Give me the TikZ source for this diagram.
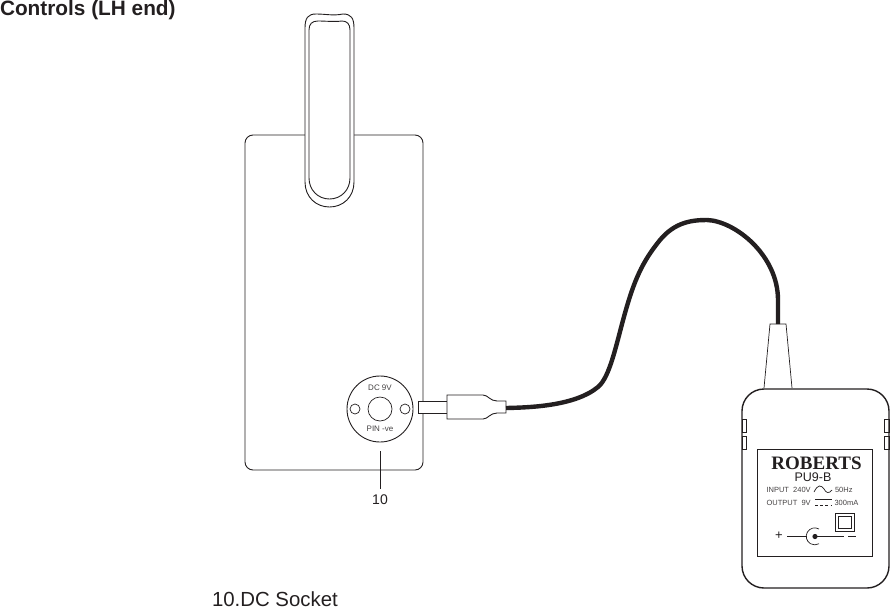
\documentclass[tikz,border=0pt]{standalone}
\usepackage{fontspec}
\setmainfont{Liberation Sans}
\newfontfamily\serifb{Liberation Serif}[Scale=1]
\definecolor{ink}{HTML}{231F20}
\tikzset{
  x=1pt,y=-1pt,
  every node/.style={inner sep=0pt,outer sep=0pt,text=ink},
  outline/.style={draw=ink,line width=0.9pt},
  thinline/.style={draw=ink,line width=0.7pt},
  small/.style={font=\fontsize{7.5}{8}\selectfont,text=ink!85},
  tiny/.style={font=\fontsize{8}{9}\selectfont,text=ink!85},
  cable/.style={draw=ink,line width=4.4pt}
}
\begin{document}
\begin{tikzpicture}
\useasboundingbox (0,0) rectangle (890,608);
% title and caption
\node[anchor=base west,font=\bfseries\fontsize{20.8}{24}\selectfont] (title) at (0,15.5) {Controls (LH end)};
\node[anchor=base west,font=\fontsize{20.4}{24}\selectfont] (caption) at (212,606) {10.DC Socket};
% radio body
\draw[outline,rounded corners=8] (245,135) rectangle (423,470);
% handle
\draw[outline,fill=white] (305,28) .. controls (305,18) and (308,14) .. (316,14)
  .. controls (326,14) and (333,16) .. (343,14) .. controls (351,14) and (354,18) .. (354,28)
  -- (354,182) .. controls (354,197) and (343,207) .. (329.5,207)
  .. controls (316,207) and (305,197) .. (305,182) -- cycle;
\draw[outline] (309,30) .. controls (309,24) and (312,21) .. (318,21)
  .. controls (326,21) and (334,22) .. (342,21) .. controls (347,21) and (350,24) .. (350,30)
  -- (350,178) .. controls (350,190) and (341,199) .. (329.5,199)
  .. controls (318,199) and (309,190) .. (309,178) -- cycle;
% socket
\node[circle,outline,minimum size=66pt] (socket) at (380,409) {};
\node[circle,thinline,minimum size=24pt] (pin) at (380,409) {};
\node[circle,thinline,minimum size=10pt] (holeL) at (355,409) {};
\node[circle,thinline,minimum size=10pt] (holeR) at (405,409) {};
\node[tiny] (dcnine) at (380,388) {DC\ 9V};
\node[tiny] (pinve) at (380,429) {PIN -ve};
\node[anchor=base,font=\fontsize{14}{16}\selectfont] (ten) at (380,504) {10};
\coordinate (tentop) at (380,451);
\draw[outline,shorten >=5pt] (tentop) -- (ten.north);
% plug
\draw[outline,fill=white] (447,401) -- (418,401) -- (418,413) -- (447,413);
\draw[outline,fill=white] (447,395) -- (483,395) .. controls (488,395) and (490,401) .. (497,401)
  -- (506,401) -- (506,413) -- (497,413) .. controls (490,413) and (488,419) .. (483,419)
  -- (447,419) -- cycle;
\coordinate (plugend) at (506,408);
\coordinate (neckin) at (778,324);
\draw[cable] (plugend) .. controls (530,407.5) and (575,406) .. (598,387)
  .. controls (610,377) and (616,345) .. (625,313)
  .. controls (634,281) and (642,262) .. (660,240)
  .. controls (675,222) and (692,220) .. (707,220)
  .. controls (735,221) and (778,255) .. (778,300)
  -- (neckin);
% adapter neck
\draw[thinline] (764,388) -- (770,324) -- (786,324) -- (792,388);
% adapter body
\draw[draw=ink,line width=1.4pt,rounded corners=22] (742,389) rectangle (889,588);
\draw[thinline] (742,419) rectangle (746,432) (742,436) rectangle (746,449);
\draw[thinline] (884,419) rectangle (889,432) (884,436) rectangle (889,449);
% label
\draw[outline] (757,449) rectangle (872,556);
\node[anchor=base,font=\serifb\bfseries\fontsize{19}{21}\selectfont] (brand) at (816.5,469) {ROBERTS};
\node[anchor=base,font=\fontsize{12.5}{14}\selectfont] (model) at (813,481) {PU9-B};
\node[small,anchor=base west] (inp) at (766.5,492.5) {INPUT\ \ 240V};
\node[small,anchor=base west] (hz) at (835,492.5) {50Hz};
\node[small,anchor=base west] (outp) at (766.5,505) {OUTPUT\ \ 9V};
\node[small,anchor=base west] (ma) at (834.5,505) {300mA};
\draw[thinline] (814,492) .. controls (818,484) and (821,485) .. (824,489) .. controls (826,493) and (829,494) .. (832,490);
\draw[thinline] (815,499) -- (832,499);
\draw[thinline,dash pattern=on 3pt off 2.2pt] (815,505) -- (832,505);
\draw[thinline] (835,513) rectangle (854,531);
\draw[thinline] (838,516) rectangle (851,528);
% polarity
\node[font=\fontsize{13}{14}\selectfont] (plus) at (779,536) {+};
\coordinate (polL) at (787,536.5);
\coordinate (polC) at (807,536.5);
\coordinate (polR) at (844,536.5);
\draw[thinline] (polL) -- (polC);
\draw[thinline] (815,536.5) -- (polR);
\fill[ink] (815,536.5) circle[radius=2.6];
\draw[thinline] (819,529) arc[start angle=-60,end angle=-300,radius=8.5];
\draw[thinline] (848,536.5) -- (856,536.5);
\end{tikzpicture}
\end{document}
